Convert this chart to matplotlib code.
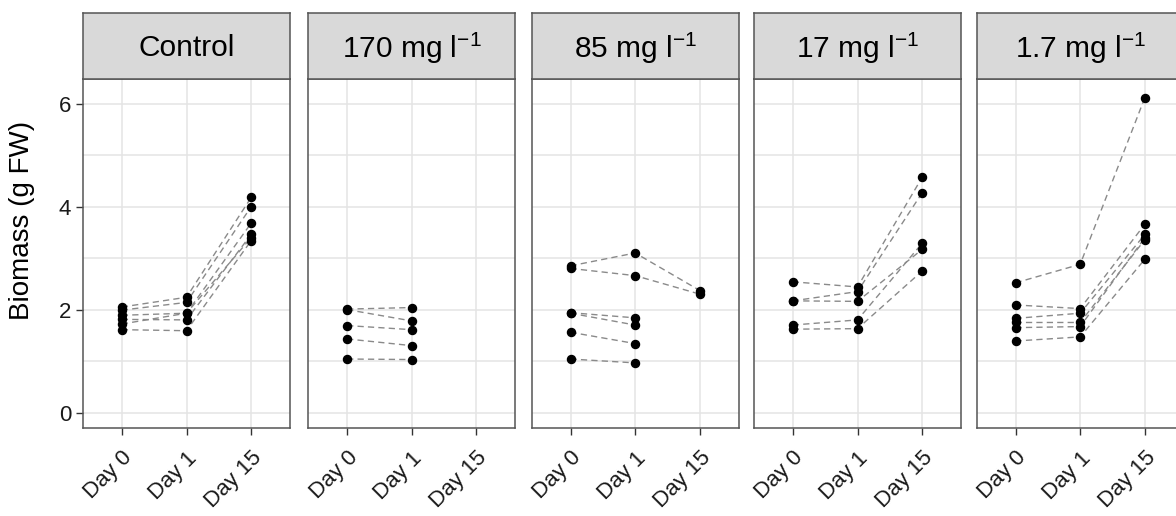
import numpy as np
import matplotlib
matplotlib.use('Agg')
import matplotlib.pyplot as plt

plt.rcParams['font.family'] = ['Liberation Sans', 'DejaVu Sans']
plt.rcParams['mathtext.fontset'] = 'custom'
plt.rcParams['mathtext.rm'] = 'Liberation Sans'
plt.rcParams['mathtext.it'] = 'Liberation Sans:italic'
plt.rcParams['mathtext.bf'] = 'Liberation Sans:bold'

days = ['Day 0', 'Day 1', 'Day 15']
treatments = ['Control', '170 mg l$^{-1}$', '85 mg l$^{-1}$', '17 mg l$^{-1}$', '1.7 mg l$^{-1}$']

# one row per plant: biomass on day 0, day 1, day 15 (nan = not measured)
control = [[2.05, 2.24, 4.18],
           [1.99, 2.14, 4.00],
           [1.89, 1.93, 3.68],
           [1.81, 1.80, 3.46],
           [1.72, 1.93, 3.40],
           [1.61, 1.59, 3.34]]
mg170 = [[2.01, 2.04, np.nan],
         [2.00, 1.78, np.nan],
         [1.69, 1.61, np.nan],
         [1.43, 1.30, np.nan],
         [1.04, 1.03, np.nan]]
mg85 = [[2.85, 3.10, 2.37],
        [2.80, 2.66, 2.30],
        [1.94, 1.84, np.nan],
        [1.93, 1.70, np.nan],
        [1.56, 1.34, np.nan],
        [1.04, 0.965, np.nan]]
mg17 = [[2.54, 2.44, 4.57],
        [2.17, 2.35, 4.27],
        [2.17, 2.16, 3.17],
        [1.70, 1.80, 3.29],
        [1.62, 1.63, 2.75]]
mg1_7 = [[2.52, 2.88, 6.12],
         [2.09, 2.02, 3.66],
         [1.83, 1.93, 3.46],
         [1.75, 1.75, 3.36],
         [1.65, 1.67, 3.40],
         [1.39, 1.47, 2.98]]
groups = [control, mg170, mg85, mg17, mg1_7]

W, H = 1176, 516
fig = plt.figure(figsize=(W / 100, H / 100), dpi=100)

lefts = [83, 308.3, 531.7, 754, 976.7]
pw = 207
top, bottom, strip_top = 79, 428, 13

for i, (name, reps) in enumerate(zip(treatments, groups)):
    ax = fig.add_axes([lefts[i] / W, (H - bottom) / H, pw / W, (bottom - top) / H])
    ax.set_facecolor('white')
    for r in reps:
        ax.plot(days, r, color='#8a8a8a', ls=(0, (4.5, 3)), lw=1.0, zorder=2)
        ax.plot(days, r, 'o', color='black', ms=5.8, zorder=3)
    ax.set_xlim(-0.6, 2.6)
    ax.set_ylim(-0.3, 6.48)
    ax.set_yticks([0, 2, 4, 6])
    ax.set_yticks([1, 3, 5], minor=True)
    ax.grid(True, which='both', color='#e4e4e4', lw=1.1, zorder=0)
    ax.set_axisbelow(True)
    for s in ax.spines.values():
        s.set_color('#555555')
        s.set_linewidth(1.1)
    ax.tick_params(axis='both', which='major', length=5, width=1.0, color='#333333',
                   labelsize=16, labelcolor='#1a1a1a')
    ax.tick_params(axis='x', pad=9)
    ax.tick_params(axis='y', which='minor', length=0)
    for lab in ax.get_xticklabels():
        lab.set_rotation(45)
        lab.set_ha('right')
        lab.set_va('top')
        lab.set_rotation_mode('anchor')
    if i > 0:
        ax.tick_params(axis='y', which='major', left=False, labelleft=False)

    # facet strip above the panel
    sx = fig.add_axes([lefts[i] / W, (H - top) / H, pw / W, (top - strip_top) / H])
    sx.set_xticks([])
    sx.set_yticks([])
    sx.set_facecolor('#d9d9d9')
    for s in sx.spines.values():
        s.set_color('#555555')
        s.set_linewidth(1.1)
    sx.text(0.5, 0.47, name, ha='center', va='center', fontsize=21.5, transform=sx.transAxes)

# axis title centred over panel + strip
fig.text(22 / W, 1 - (strip_top + bottom) / 2 / H, 'Biomass (g FW)', rotation=90,
         ha='center', va='center', fontsize=20)

fig.savefig('out.png', dpi=100)
